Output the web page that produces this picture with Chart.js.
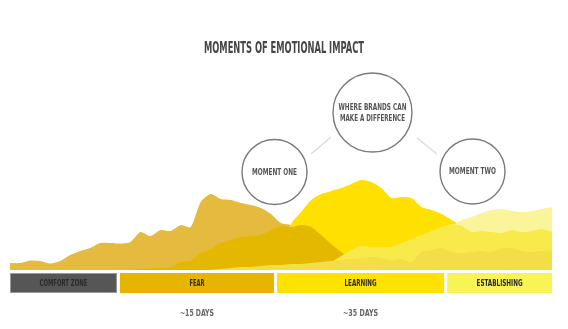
<!DOCTYPE html>
<html>
<head>
<meta charset="utf-8">
<script src="https://cdn.jsdelivr.net/npm/chart.js@4/dist/chart.umd.min.js"></script>
<style>
html,body{margin:0;padding:0;background:#fff;}
#wrap{width:568px;height:329px;position:relative;}
</style>
</head>
<body>
<div id="wrap"><canvas id="c" width="568" height="329"></canvas></div>
<script>
// ---- data ----
const days = Array.from({length: 55}, (_, i) => i);
const fearWave     = [7,7,9.5,9,6.5,9,15,19,22,27,27,26.5,28,38,34,40,39,45,43,68,76,71,70,67,65,62,56,47,45,40,30,20,10,0,0,0,0,0,0,0,0,0,0,0,0,0,0,0,0,0,0,0,0,0,0];
const learningWave = [0,0,0,0,0,0,0,0,0,0,0,0,0,0,0,0,0,0,0,0,0,0,0,0,0,0,0,20,46,58,70,76,79,82,86,90,88,82,72,73,72,63,60,56,50,44,36,28,20,12,5,0,0,0,0];
const fearDeep     = [0,0,0,0,0,0,0,0,0,0,0,0,0,1,2,2,3,8,9,17,21,27,30,33,34,35,40,44,43,45,43,35,26,18,10,2,0,0,0,0,0,0,0,0,0,0,0,0,0,0,0,0,0,0,0];
const establishTop = [0,0,0,0,0,0,0,0,0,0,0,0,0,0,0,0,0,0,0,0,0,0,0,0,0,0,0,0,0,0,0,0,0,0,0,0,0,0,0,0,0,0,25,38,44,50,53,57,60,61,59,58,59,61,63];
const learningMid  = [0,0,0,0,0,0,0,0,0,0,0,0,0,0,0,0,0,0,0,0,0,0,0,0,0,0,0,0,0,0,0,4,8,14,20,24,23,23,23,27,31,35,39,43,46,44,38,39,38,37,40,38,39,41,38];
const baseBand     = [0,0,0,0,0,0,0,0,0,0,0,0,0,0,0,0,0,0,0,0,0,1,2,3,3,4,5,5,6,6,7,8,9,10,11,12,13,12,10,11,8,18,20,22,18,17,18,19,18,22,22,19,18,19,20];

const phaseNames  = ["COMFORT ZONE", "FEAR", "LEARNING", "ESTABLISHING"];
const phaseBounds = [0, 10.8, 26.45, 43.4, 54];
const durations   = [null, "~15 DAYS", "~35 DAYS", null];

const titleText = "MOMENTS OF EMOTIONAL IMPACT";
const moments = [
  {lines: ["MOMENT ONE"]},
  {lines: ["WHERE BRANDS CAN", "MAKE A DIFFERENCE"]},
  {lines: ["MOMENT TWO"]}
];

// ---- styles ----
const FONT = '"DejaVu Sans Condensed","Liberation Sans Narrow","Roboto",sans-serif';
const phaseColors = ["#565656", "#E5B500", "#FFE200", "#F9F455"];
const phaseLabelW = [48, 15, 32, 46];
const durationW = [0, 34, 35, 0];
const momentW = [[45], [68, 65], [47]];

function fitText(ctx, text, cx, cy, size, w) {
  ctx.font = 'bold ' + size + 'px ' + FONT;
  const m = ctx.measureText(text).width;
  const sx = w ? w / m : 1;
  ctx.save();
  ctx.translate(cx, cy);
  ctx.scale(sx, 1);
  ctx.textAlign = 'center';
  ctx.textBaseline = 'middle';
  ctx.fillText(text, 0, 0);
  ctx.restore();
}

const annotate = {
  id: 'annotate',
  afterDraw(chart) {
    const ctx = chart.ctx;
    const xs = chart.scales.x;
    const area = chart.chartArea;
    ctx.save();
    // title
    ctx.fillStyle = '#454545';
    fitText(ctx, titleText, 284, 49.5, 15, 160);

    // connector lines
    ctx.strokeStyle = '#dcdcdc';
    ctx.lineWidth = 1.5;
    ctx.beginPath();
    ctx.moveTo(311, 154); ctx.lineTo(331, 137);
    ctx.moveTo(417, 138); ctx.lineTo(437, 154);
    ctx.stroke();

    // circles
    const circ = [
      {cx: 274.5, cy: 172, r: 32.5},
      {cx: 372.5, cy: 112.5, r: 39.5},
      {cx: 472.5, cy: 171.5, r: 32.5}
    ];
    circ.forEach((c, k) => {
      ctx.beginPath();
      ctx.arc(c.cx, c.cy, c.r, 0, Math.PI * 2);
      ctx.fillStyle = '#fff';
      ctx.fill();
      ctx.strokeStyle = '#7a7a7a';
      ctx.lineWidth = 1.4;
      ctx.stroke();
      ctx.fillStyle = '#555';
      const lines = moments[k].lines;
      const lh = 11;
      lines.forEach((t, j) => {
        fitText(ctx, t, c.cx, c.cy + (j - (lines.length - 1) / 2) * lh + 0.5, 9, momentW[k][j]);
      });
    });

    // phase bars
    const top = area.bottom + 3, h = 20;
    for (let i = 0; i < phaseNames.length; i++) {
      let x0 = xs.getPixelForValue(phaseBounds[i]);
      let x1 = xs.getPixelForValue(phaseBounds[i + 1]);
      if (i > 0) x0 += 1.5;
      if (i < phaseNames.length - 1) x1 -= 1.5;
      ctx.fillStyle = phaseColors[i];
      ctx.fillRect(x0, top, x1 - x0, h);
      if (i === 0) {
        ctx.strokeStyle = '#9a9a9a';
        ctx.lineWidth = 1;
        ctx.strokeRect(x0 + 0.5, top + 0.5, x1 - x0 - 1, h - 1);
      }
      ctx.fillStyle = '#2a2a2a';
      fitText(ctx, phaseNames[i], (x0 + x1) / 2, top + h / 2 + 0.5, 8.5, phaseLabelW[i]);
      if (durations[i]) {
        ctx.fillStyle = '#666';
        fitText(ctx, durations[i], (x0 + x1) / 2, 314, 8.5, durationW[i]);
      }
    }
    ctx.restore();
  }
};

function ds(data, color, order) {
  return {data, backgroundColor: color, borderWidth: 0, fill: 'origin', pointRadius: 0, tension: 0.25, order};
}

new Chart(document.getElementById('c'), {
  type: 'line',
  data: {
    labels: days,
    datasets: [
      ds(fearWave, '#E4BB3E', 6),
      ds(learningWave, '#FFE000', 5),
      ds(fearDeep, '#E5B800', 4),
      ds(establishTop, '#FAF59A', 3),
      ds(learningMid, '#F9EA4C', 2),
      ds(baseBand, '#F3DE47', 1)
    ]
  },
  options: {
    responsive: false,
    animation: false,
    layout: {padding: {left: 10, right: 16, top: 170, bottom: 59}},
    plugins: {legend: {display: false}, tooltip: {enabled: false}, title: {display: false}},
    scales: {
      x: {display: false, offset: false},
      y: {display: false, min: 0, max: 100}
    },
    elements: {line: {borderWidth: 0}}
  },
  plugins: [annotate]
});
</script>
</body>
</html>
